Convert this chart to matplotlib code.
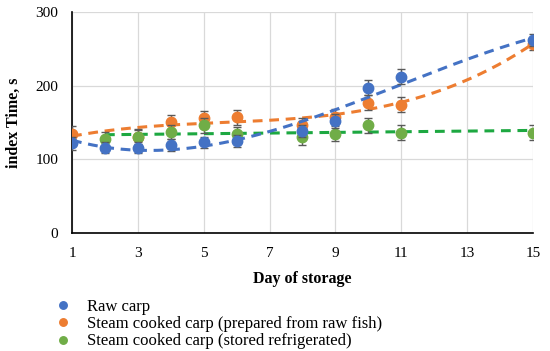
import numpy as np
import matplotlib
matplotlib.use("Agg")
import matplotlib.pyplot as plt

plt.rcParams['font.family'] = ['Liberation Serif', 'DejaVu Serif']

raw_days = [1, 2, 3, 4, 5, 6, 8, 9, 10, 11, 15]
raw_vals = [122, 116, 116, 119, 123, 125, 138, 152, 197, 212, 262]
raw_err = [9, 8, 8, 8, 8, 8, 8, 9, 10, 10, 8]

steam_days = [1, 3, 4, 5, 6, 8, 9, 10, 11, 15]
steam_vals = [135, 130, 150, 156, 157, 146, 158, 177, 174, 257]
steam_err = [10, 10, 10, 10, 10, 10, 10, 10, 10, 8]

fridge_days = [2, 3, 4, 5, 6, 8, 9, 10, 11, 15]
fridge_vals = [127, 131, 137, 146, 134, 130, 135, 146, 136, 136]
fridge_err = [10, 10, 10, 10, 10, 10, 10, 10, 10, 10]

labels = ["Raw carp",
          "Steam cooked carp (prepared from raw fish)",
          "Steam cooked carp (stored refrigerated)"]
colors = ["#4472C4", "#ED7D31", "#70AD47"]
trend_colors = ["#4472C4", "#ED7D31", "#1DA841"]
degrees = [3, 3, 1]

xticks = [1, 3, 5, 7, 9, 11, 13, 15]
yticks = [0, 100, 200, 300]

fig = plt.figure(figsize=(5.5, 3.51), dpi=100)
ax = fig.add_axes([0.131, 0.336, 0.838, 0.63])

series = [(raw_days, raw_vals, raw_err), (steam_days, steam_vals, steam_err),
          (fridge_days, fridge_vals, fridge_err)]
zorders = [5, 3, 4]
handles = []
for (d, v, e), c, tc, deg, z, lab in zip(series, colors, trend_colors, degrees, zorders, labels):
    d = np.array(d, float); v = np.array(v, float)
    coef = np.polyfit(d, v, deg)
    xs = np.linspace(d.min(), d.max(), 200)
    ax.plot(xs, np.polyval(coef, xs), ls=(0, (3.2, 2.2)), color=tc, lw=2.2, zorder=z)
    ax.errorbar(d, v, yerr=e, fmt='none', ecolor='#595959', elinewidth=1.0,
                capsize=3, capthick=1.0, zorder=z)
    h, = ax.plot(d, v, 'o', color=c, ms=7.5, zorder=z + 0.5, label=lab)
    handles.append(h)

ax.set_xlim(1, 15)
ax.set_ylim(0, 300)
ax.set_xticks(xticks)
ax.set_yticks(yticks)
ax.grid(True, color='#d9d9d9', lw=0.9)
ax.set_axisbelow(True)
for s in ['top', 'right']:
    ax.spines[s].set_visible(False)
for s in ['left', 'bottom']:
    ax.spines[s].set_color('black')
    ax.spines[s].set_linewidth(1.2)
ax.tick_params(length=0, labelsize=11, pad=10)
ax.set_xlabel("Day of storage", fontsize=11.5, fontweight='bold', labelpad=8)
ax.set_ylabel("index Time, s", fontsize=11.5, fontweight='bold', labelpad=10)

fig.legend(handles=handles, labels=labels, loc='upper left',
           bbox_to_anchor=(0.088, 0.168), frameon=False, fontsize=12,
           handletextpad=0.9, labelspacing=0.08, markerscale=0.72,
           borderaxespad=0, handlelength=1.0)

fig.savefig("out.png", dpi=100)
